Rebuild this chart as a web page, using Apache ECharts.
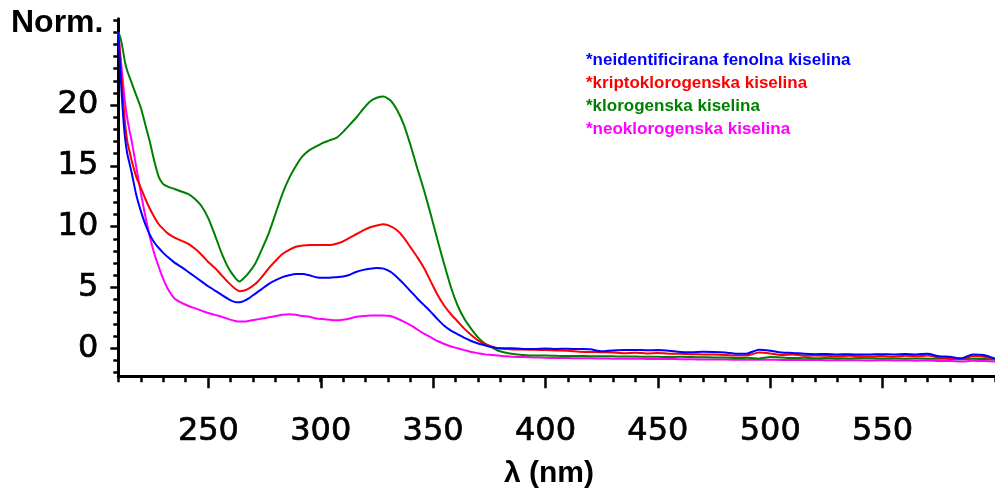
<!DOCTYPE html>
<html>
<head>
<meta charset="utf-8">
<script src="https://cdn.jsdelivr.net/npm/echarts@6/dist/echarts.min.js"></script>
<style>
  html, body { margin: 0; padding: 0; background: #fff; }
  #chart { width: 995px; height: 496px; }
</style>
</head>
<body>
<div id="chart"></div>
<script>
// valne duljine (nm)
var wavelengths = [
  210, 211, 212, 213, 214, 215, 216,
  218, 220, 222, 224, 226, 228, 230, 232,
  235, 238, 241, 244, 247, 250, 253, 256, 259, 262,
  264, 266, 268,
  271, 274, 277, 280, 283, 286, 289, 292, 295, 298,
  301, 304, 307, 310, 313, 316, 319, 322, 325, 328,
  331, 334, 337, 340, 343, 346, 349, 352, 355, 358,
  361, 364, 367, 370, 373, 376, 379, 382, 385,
  390,
  395, 400, 405, 410, 415, 420, 425, 430, 435, 440, 445, 450, 455, 460, 465, 470, 475, 480, 485, 490,
  495, 500, 505, 510, 515, 520, 525, 530, 535, 540, 545, 550, 555, 560, 565, 570, 575, 580, 585, 590, 595, 600
];

// *neidentificirana fenolna kiselina
var neidentificirana = [
  26.0, 22.5, 19.5, 17.3, 16.0, 15.2, 14.4,
  12.6, 11.3, 10.2, 9.35, 8.7, 8.25, 7.85, 7.5,
  7.05, 6.7, 6.3, 5.9, 5.5, 5.1, 4.75, 4.4, 4.05, 3.8,
  3.78, 3.9, 4.1,
  4.5, 4.9, 5.3, 5.6, 5.85, 6.0, 6.1, 6.1, 6.0, 5.85,
  5.8, 5.8, 5.85, 5.9, 6.05, 6.3, 6.45, 6.55, 6.6, 6.55,
  6.3, 5.85, 5.3, 4.7, 4.1, 3.55, 3.0, 2.4, 1.85, 1.45,
  1.15, 0.85, 0.6, 0.4, 0.25, 0.1, 0.0, 0.0, 0.0,
  -0.05,
  -0.05, -0.02, -0.05, -0.03, -0.06, -0.08, -0.25, -0.18, -0.15, -0.14, -0.16, -0.15, -0.2, -0.3, -0.32, -0.28, -0.3, -0.35, -0.45, -0.42,
  -0.12, -0.2, -0.35, -0.38, -0.45, -0.48, -0.47, -0.5, -0.48, -0.52, -0.5, -0.48, -0.5, -0.47, -0.5, -0.45, -0.65, -0.7, -0.82, -0.5, -0.55, -0.85
];

// *kriptoklorogenska kiselina
var kriptoklorogenska = [
  26.0, 23.5, 20.8, 18.5, 17.0, 16.2, 15.4,
  14.1, 13.2, 12.3, 11.5, 10.8, 10.2, 9.8, 9.45,
  9.1, 8.85, 8.6, 8.2, 7.7, 7.1, 6.6, 6.0, 5.4, 4.9,
  4.7, 4.75, 4.9,
  5.3, 5.9, 6.6, 7.2, 7.75, 8.1, 8.35, 8.45, 8.5, 8.5,
  8.5, 8.5, 8.6, 8.8, 9.1, 9.4, 9.7, 9.95, 10.1, 10.2,
  10.05, 9.7, 9.1, 8.3, 7.5, 6.6, 5.5, 4.4, 3.5, 2.8,
  2.2, 1.6, 1.1, 0.65, 0.35, 0.15, 0.0, -0.05, -0.1,
  -0.1,
  -0.12, -0.15, -0.18, -0.2, -0.28, -0.3, -0.32, -0.35, -0.4, -0.36, -0.42, -0.38, -0.45, -0.44, -0.48, -0.5, -0.52, -0.55, -0.6, -0.58,
  -0.35, -0.42, -0.55, -0.5, -0.62, -0.6, -0.62, -0.66, -0.62, -0.66, -0.68, -0.64, -0.7, -0.62, -0.66, -0.6, -0.75, -0.8, -0.88, -0.66, -0.7, -0.9
];

// *klorogenska kiselina
var klorogenska = [
  26.0, 25.5, 24.6, 23.5, 22.8, 22.3, 21.8,
  20.8, 19.8, 18.4, 17.0, 15.4, 14.1, 13.5, 13.3,
  13.1, 12.9, 12.7, 12.3, 11.7, 10.7, 9.3, 7.8, 6.6, 5.8,
  5.5, 5.8, 6.2,
  7.0, 8.2, 9.5, 11.1, 12.7, 14.0, 15.0, 15.8, 16.3, 16.6,
  16.9, 17.1, 17.3, 17.8, 18.4, 19.0, 19.7, 20.3, 20.6, 20.7,
  20.4, 19.6, 18.4, 16.7, 14.8, 13.0, 11.0, 8.9, 6.9, 5.0,
  3.5, 2.4, 1.6, 0.9, 0.4, 0.1, -0.2, -0.35, -0.45,
  -0.55,
  -0.6, -0.6, -0.62, -0.63, -0.63, -0.65, -0.65, -0.66, -0.68, -0.67, -0.7, -0.7, -0.72, -0.7, -0.72, -0.74, -0.75, -0.76, -0.8, -0.78,
  -0.85, -0.72, -0.75, -0.8, -0.78, -0.82, -0.8, -0.82, -0.83, -0.8, -0.82, -0.84, -0.83, -0.85, -0.84, -0.85, -0.86, -0.88, -0.9, -0.85, -0.88, -0.92
];

// *neoklorogenska kiselina
var neoklorogenska = [
  26.0, 24.0, 22.0, 20.2, 18.9, 17.9, 17.0,
  14.9, 12.8, 10.9, 9.2, 7.8, 6.7, 5.7, 4.9,
  4.1, 3.75, 3.5, 3.3, 3.1, 2.9, 2.75, 2.6, 2.4, 2.25,
  2.2, 2.2, 2.25,
  2.35, 2.45, 2.55, 2.65, 2.75, 2.8, 2.75, 2.65, 2.6, 2.45,
  2.4, 2.35, 2.3, 2.35, 2.45, 2.6, 2.65, 2.7, 2.7, 2.7,
  2.65, 2.45, 2.2, 1.9, 1.55, 1.2, 0.9, 0.6, 0.35, 0.15,
  0.0, -0.15, -0.3, -0.4, -0.5, -0.55, -0.6, -0.65, -0.7,
  -0.72,
  -0.75, -0.78, -0.8, -0.8, -0.82, -0.82, -0.84, -0.85, -0.86, -0.85, -0.87, -0.88, -0.88, -0.9, -0.9, -0.92, -0.93, -0.92, -0.94, -0.95,
  -0.95, -0.94, -0.96, -0.95, -0.97, -0.96, -0.98, -0.97, -0.98, -0.99, -1.0, -0.98, -1.0, -1.0, -1.02, -1.0, -1.05, -1.05, -1.08, -1.03, -1.05, -1.08
];

var seriesNames = [
  '*neidentificirana fenolna kiselina',
  '*kriptoklorogenska kiselina',
  '*klorogenska kiselina',
  '*neoklorogenska kiselina'
];
var seriesColors = ['#0000ff', '#ff0000', '#008000', '#ff00ff'];
var seriesValues = [neidentificirana, kriptoklorogenska, klorogenska, neoklorogenska];

// glavne oznake osi
var xTickLabels = [250, 300, 350, 400, 450, 500, 550];
var yTickLabels = [0, 5, 10, 15, 20];

// položaj osi u pikselima (lambda 210 -> x0, vrijednost 0 -> y0)
var X0 = 118.3, PX_NM = 2.253, Y0 = 348.3, PX_U = 12.16;
var X_MIN = 210, X_MAX = 600, Y_MIN = -2.3, Y_MAX = 27.1;

function gridFor(xmin, xmax, ymin, ymax) {
  return {
    left: X0 + (xmin - X_MIN) * PX_NM,
    width: (xmax - xmin) * PX_NM,
    top: Y0 - ymax * PX_U,
    height: (ymax - ymin) * PX_U
  };
}

var FONT = 'DejaVu Sans';
var tickLabelStyle = {
  color: '#000', fontSize: 32, fontFamily: FONT,
  textBorderColor: '#000', textBorderWidth: 0.7
};
var chart = echarts.init(document.getElementById('chart'));

chart.setOption({
  backgroundColor: '#fff',
  animation: false,
  grid: [
    gridFor(X_MIN, X_MAX, Y_MIN, Y_MAX),                 // podaci + sitne oznake x
    gridFor(xTickLabels[0], X_MAX, Y_MIN, Y_MAX),        // glavne oznake x
    gridFor(X_MIN, X_MAX, 0, 25),                        // glavne oznake y
    gridFor(X_MIN, X_MAX, -2, 27)                        // sitne oznake y
  ],
  xAxis: [
    {
      gridIndex: 0, type: 'value', min: X_MIN, max: X_MAX, interval: 10,
      axisLine: { show: true, onZero: false, lineStyle: { color: '#000', width: 3 } },
      axisTick: { show: true, length: 6, lineStyle: { color: '#000', width: 2.5 } },
      axisLabel: { show: false }, splitLine: { show: false }
    },
    {
      gridIndex: 1, type: 'value', min: xTickLabels[0], max: X_MAX, interval: 50,
      axisLine: { show: false, onZero: false },
      axisTick: { show: true, length: 12, lineStyle: { color: '#000', width: 2.5 } },
      axisLabel: Object.assign({
        show: true, margin: 39, showMaxLabel: false,
        formatter: function (v) { return xTickLabels.indexOf(v) >= 0 ? String(v) : ''; }
      }, tickLabelStyle),
      splitLine: { show: false }
    },
    { gridIndex: 2, type: 'value', min: X_MIN, max: X_MAX, show: false },
    { gridIndex: 3, type: 'value', min: X_MIN, max: X_MAX, show: false }
  ],
  yAxis: [
    {
      gridIndex: 0, type: 'value', min: Y_MIN, max: Y_MAX,
      axisLine: { show: true, onZero: false, lineStyle: { color: '#000', width: 3 } },
      axisTick: { show: false }, axisLabel: { show: false }, splitLine: { show: false }
    },
    { gridIndex: 1, type: 'value', min: Y_MIN, max: Y_MAX, show: false },
    {
      gridIndex: 2, type: 'value', min: 0, max: 25, interval: 5,
      axisLine: { show: false, onZero: false },
      axisTick: { show: true, length: 8, lineStyle: { color: '#000', width: 2.5 } },
      axisLabel: Object.assign({
        show: true, margin: 20, showMaxLabel: false,
        formatter: function (v) { return yTickLabels.indexOf(v) >= 0 ? String(v) : ''; }
      }, tickLabelStyle),
      splitLine: { show: false }
    },
    {
      gridIndex: 3, type: 'value', min: -2, max: 27, interval: 1,
      axisLine: { show: false, onZero: false },
      axisTick: { show: true, length: 5, lineStyle: { color: '#000', width: 2.5 } },
      axisLabel: { show: false }, splitLine: { show: false }
    }
  ],
  legend: {
    orient: 'vertical',
    left: 581, top: 51, padding: 0,
    icon: 'none', itemWidth: 0, itemHeight: 18, itemGap: 5.2,
    selectedMode: false,
    textStyle: { fontSize: 17, fontWeight: 'bold', fontFamily: 'Liberation Sans', lineHeight: 18 },
    data: seriesNames.map(function (n, i) {
      return { name: n, textStyle: { color: seriesColors[i] } };
    })
  },
  graphic: [
    {
      type: 'text', left: 11, top: 7,
      style: { text: 'Norm.', fill: '#000', font: 'bold 32px "Liberation Sans"' }
    },
    {
      type: 'text',
      style: {
        x: 549, y: 474, text: 'λ (nm)', fill: '#000',
        font: 'bold 30px "Liberation Sans"', align: 'center', verticalAlign: 'middle'
      }
    }
  ],
  // crtanje: zadnja serija ide na vrh
  series: [3, 2, 1, 0].map(function (i) {
    return {
      name: seriesNames[i],
      type: 'line',
      xAxisIndex: 0, yAxisIndex: 0,
      showSymbol: false,
      smooth: 0.2,
      clip: true,
      color: seriesColors[i],
      lineStyle: { color: seriesColors[i], width: 2 },
      data: wavelengths.map(function (w, k) { return [w, seriesValues[i][k]]; })
    };
  })
});
</script>
</body>
</html>
